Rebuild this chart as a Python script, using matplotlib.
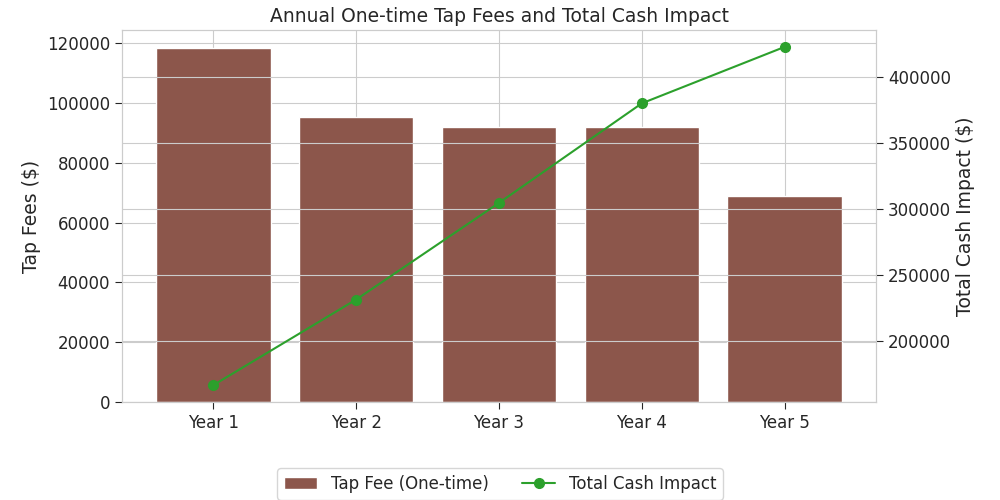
import seaborn as sns
from matplotlib import pyplot as plt

years = ["Year 1", "Year 2", "Year 3", "Year 4", "Year 5"]
tap_fees = [118500, 95200, 92000, 92000, 68800]
total_cash = [166400, 231300, 304600, 380100, 422900]

sns.set_style("whitegrid")
plt.rcParams["xtick.bottom"] = True
plt.rcParams["ytick.left"] = True
plt.rcParams["ytick.right"] = True

fig, ax1 = plt.subplots(figsize=(10, 5), dpi=100)
fig.subplots_adjust(left=0.122, right=0.876, top=0.94, bottom=0.196)

bars = ax1.bar(years, tap_fees, color="#8c564b", label="Tap Fee (One-time)")
ax1.set_ylabel("Tap Fees ($)", fontsize=13.5)
ax1.tick_params(axis="both", labelsize=12, length=5)

ax2 = ax1.twinx()
line, = ax2.plot(years, total_cash, color="#2ca02c", marker="o", markersize=7,
                 label="Total Cash Impact")
ax2.set_ylabel("Total Cash Impact ($)", fontsize=13.5)
ax2.tick_params(axis="y", labelsize=12, length=5)

ax1.set_title("Annual One-time Tap Fees and Total Cash Impact", fontsize=13.5)

fig.legend(handles=[bars, line], loc="upper center", bbox_to_anchor=(0.5, 0.08),
           ncol=2, fontsize=12, frameon=True)

fig.savefig("out.png", dpi=100)
